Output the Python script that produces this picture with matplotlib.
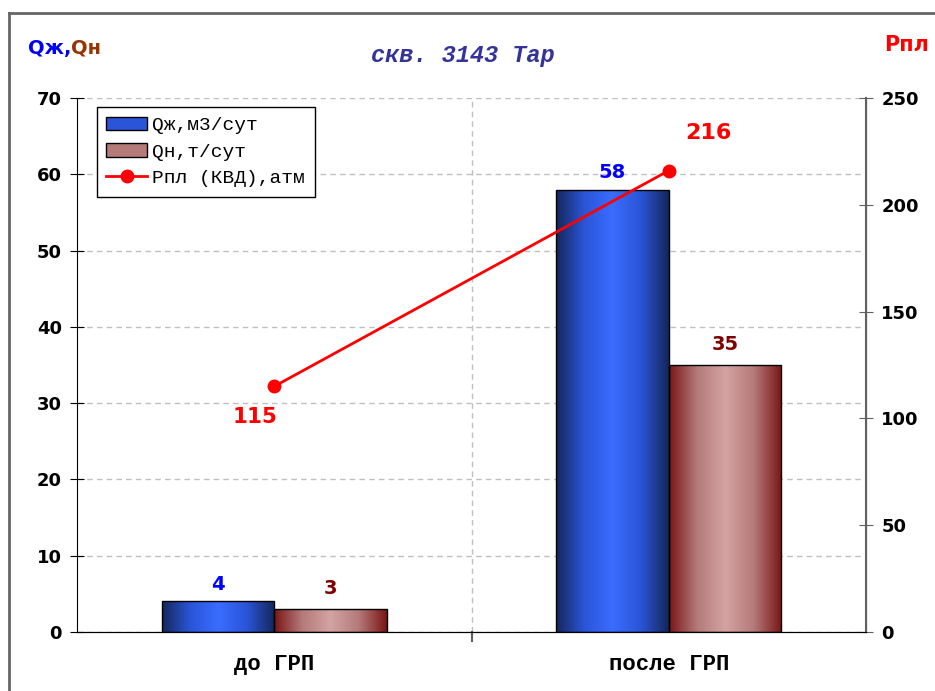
import matplotlib
matplotlib.use("Agg")
import matplotlib.pyplot as plt
from matplotlib.colors import LinearSegmentedColormap
from matplotlib.patches import Rectangle, Patch
from matplotlib.lines import Line2D
import numpy as np

# data
categories = ["до ГРП", "после ГРП"]
q_liquid = [4, 58]       # Qж, м3/сут
q_oil = [3, 35]          # Qн, т/сут
p_res = [115, 216]       # Рпл (КВД), атм

blue_cmap = LinearSegmentedColormap.from_list(
    "bl", ["#14275a", "#2a55d8", "#3a6cff", "#2a55d8", "#14275a"])
brown_cmap = LinearSegmentedColormap.from_list(
    "br", ["#7a1616", "#b57a7a", "#d4a3a3", "#b57a7a", "#7a1616"])

fig = plt.figure(figsize=(9.35, 6.91), dpi=100)
ax = fig.add_axes([0.0824, 0.0854, 0.8438, 0.7728])
ax2 = ax.twinx()

x = np.arange(len(categories))
w = 0.285
grad = np.linspace(0, 1, 256).reshape(1, -1)


def gradient_bars(xs, vals, cmap):
    for xi, v in zip(xs, vals):
        r = Rectangle((xi, 0), w, v, facecolor="none", edgecolor="black",
                      linewidth=1.0, zorder=3)
        ax.add_patch(r)
        im = ax.imshow(grad, cmap=cmap, aspect="auto",
                       extent=(xi, xi + w, 0, v), zorder=2)
        im.set_clip_path(r)


gradient_bars(x - w, q_liquid, blue_cmap)
gradient_bars(x, q_oil, brown_cmap)

ax.set_xlim(-0.5, 1.5)
ax.set_ylim(0, 70)
ax.set_yticks(range(0, 71, 10))
ax.set_xticks(x)
ax.set_xticklabels(categories, fontfamily="Liberation Mono",
                   fontweight="bold", fontsize=16)
ax.tick_params(axis="x", length=0, pad=16)
ax.tick_params(axis="y", direction="inout", length=10, labelsize=13, pad=6)
for lbl in ax.get_yticklabels():
    lbl.set_fontweight("bold")
ax.grid(axis="y", color="#c0c0c0", linestyle=(0, (4, 3)), linewidth=1)
ax.axvline(0.5, color="#c0c0c0", linestyle=(0, (4, 3)), linewidth=1, zorder=1)
ax.plot([0.5, 0.5], [0, -1.2], color="#606060", lw=1.5, clip_on=False)
ax.set_axisbelow(True)

for s in ["top"]:
    ax.spines[s].set_visible(False)
    ax2.spines[s].set_visible(False)
ax.spines["left"].set_color("black")
ax.spines["bottom"].set_color("black")
ax2.spines["right"].set_color("#606060")
ax2.spines["right"].set_linewidth(1.5)
ax2.spines["left"].set_visible(False)

# line on secondary axis
ax2.plot(x, p_res, color="#ff0000", lw=2, marker="o", markersize=9, zorder=5)
ax2.set_ylim(0, 250)
ax2.set_yticks(range(0, 251, 50))
ax2.tick_params(axis="y", direction="inout", length=10, labelsize=13, pad=6,
                color="#606060")
for lbl in ax2.get_yticklabels():
    lbl.set_fontweight("bold")

# value labels
bold = dict(fontweight="bold", fontsize=14, ha="center")
for xi, v in zip(x - w / 2, q_liquid):
    ax.text(xi, v + 1.5, str(v), color="#0000ff", **bold)
for xi, v in zip(x + w / 2, q_oil):
    ax.text(xi, v + 2.0, str(v), color="#800000", **bold)
ax2.text(x[0] - 0.05, p_res[0] - 17, str(p_res[0]), color="#ff0000",
         fontweight="bold", fontsize=15.5, ha="center")
ax2.text(x[1] + 0.1, p_res[1] + 15, str(p_res[1]), color="#ff0000",
         fontweight="bold", fontsize=16, ha="center")

# legend
handles = [
    Patch(facecolor="#2a55d8", edgecolor="black", label="Qж,м3/сут"),
    Patch(facecolor="#b57a7a", edgecolor="black", label="Qн,т/сут"),
    Line2D([], [], color="#ff0000", lw=2, marker="o", markersize=9,
           label="Рпл (КВД),атм"),
]
leg = ax.legend(handles=handles, loc="upper left",
                bbox_to_anchor=(0.025, 0.983), borderaxespad=0,
                fancybox=False, framealpha=1, edgecolor="black",
                prop={"family": "Liberation Mono", "size": 14},
                handlelength=2.1, handletextpad=0.25, borderpad=0.5,
                labelspacing=0.45)
leg.get_frame().set_linewidth(1)
leg.set_zorder(10)

# title and axis headers
fig.text(0.495, 0.920, "скв. 3143 Тар", color="#333399", fontsize=17,
         fontweight="bold", fontstyle="italic", fontfamily="Liberation Mono",
         ha="center", va="center")
fig.text(0.030, 0.930, "Qж,", color="#0000ff", fontsize=14,
         fontweight="bold", ha="left", va="center")
fig.text(0.0755, 0.930, "Qн", color="#993300", fontsize=14,
         fontweight="bold", ha="left", va="center")
fig.text(0.946, 0.935, "Рпл", color="#ff0000", fontsize=15,
         fontweight="bold", ha="left", va="center")

# outer frame
fig.add_artist(Line2D([0.0096, 1.0], [0.981, 0.981], color="#666666",
                      lw=2, transform=fig.transFigure))
fig.add_artist(Line2D([0.0096, 0.0096], [0.0, 0.981], color="#666666",
                      lw=2, transform=fig.transFigure))

fig.savefig("out.png", dpi=100)
